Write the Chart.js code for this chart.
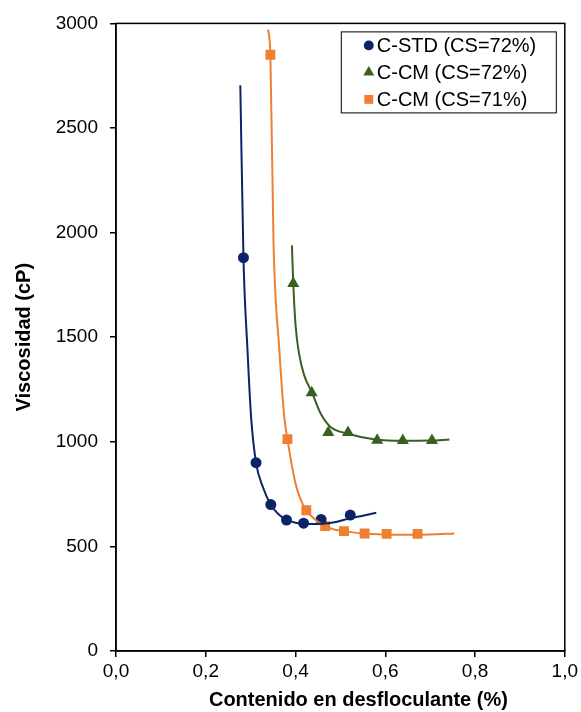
<!DOCTYPE html>
<html>
<head>
<meta charset="utf-8">
<script src="https://cdn.jsdelivr.net/npm/chart.js@4/dist/chart.umd.min.js"></script>
<style>
  html, body { margin: 0; padding: 0; background: #fff; }
  #wrap { width: 581px; height: 712px; }
</style>
</head>
<body>
<div id="wrap"><canvas id="viscChart" width="581" height="712"></canvas></div>
<script>
// Datos
const nombres = ['C-STD (CS=72%)', 'C-CM (CS=72%)', 'C-CM (CS=71%)'];
const tituloX = 'Contenido en desfloculante (%)';

const stdX = [0.284, 0.312, 0.345, 0.380, 0.418, 0.457, 0.522];
const stdY = [1880, 900, 700, 626, 611, 629, 650];
const cm72X = [0.395, 0.436, 0.473, 0.517, 0.582, 0.639, 0.704];
const cm72Y = [1757, 1234, 1045, 1045, 1008, 1006, 1006];
const cm71X = [0.344, 0.382, 0.424, 0.466, 0.508, 0.554, 0.603, 0.672];
const cm71Y = [2850, 1013, 673, 597, 573, 562, 560, 560];

// Líneas de tendencia
const stdFitX = [0.277, 0.284, 0.293, 0.301, 0.312, 0.327, 0.345, 0.362, 0.380, 0.40, 0.43, 0.46, 0.49, 0.52, 0.55, 0.58];
const stdFitY = [2704, 1880, 1438, 1119, 900, 785, 699, 654, 628, 613, 607, 608, 617, 634, 647, 661];
const cm72FitX = [0.392, 0.395, 0.400, 0.408, 0.419, 0.4375, 0.456, 0.478, 0.515, 0.578, 0.64, 0.70, 0.743];
const cm72FitY = [1939, 1757, 1560, 1420, 1320, 1231, 1135, 1071, 1040, 1011, 1005, 1006, 1011];
const cm71FitX = [0.339, 0.344, 0.351, 0.364, 0.375, 0.382, 0.40, 0.412, 0.424, 0.445, 0.466, 0.486, 0.508, 0.55, 0.60, 0.65, 0.70, 0.754];
const cm71FitY = [2970, 2847, 1951, 1438, 1119, 1013, 801, 721, 673, 626, 597, 581, 573, 562, 557, 556, 557, 562];

const xTicks = [0, 0.2, 0.4, 0.6, 0.8, 1.0];
const yTicks = [0, 500, 1000, 1500, 2000, 2500, 3000];

const colores = ['#0a2467', '#3b5e22', '#ee7f33'];
const marcas = ['circle', 'triangle', 'rect'];
const radios = [5.5, 7, 7];

const toXY = (xs, ys) => xs.map((x, i) => ({ x: x, y: ys[i] }));

const puntos = [[stdX, stdY], [cm72X, cm72Y], [cm71X, cm71Y]];
const curvas = [[stdFitX, stdFitY], [cm72FitX, cm72FitY], [cm71FitX, cm71FitY]];

const datasets = [];
curvas.forEach((c, i) => {
  datasets.push({
    label: 'fit' + i,
    data: toXY(c[0], c[1]),
    showLine: true,
    borderColor: colores[i],
    borderWidth: 2,
    pointRadius: 0,
    cubicInterpolationMode: 'monotone',
    fill: false,
    enLeyenda: false
  });
});
puntos.forEach((p, i) => {
  datasets.push({
    label: nombres[i],
    data: toXY(p[0], p[1]),
    showLine: false,
    backgroundColor: colores[i],
    borderColor: colores[i],
    borderWidth: 0,
    pointStyle: marcas[i],
    pointRadius: radios[i],
    pointHoverRadius: radios[i],
    enLeyenda: true
  });
});

// Marco del área de trazado, título X y leyenda dentro del gráfico
const marcoLeyenda = {
  id: 'marcoLeyenda',
  afterDraw(chart) {
    const ctx = chart.ctx;
    const a = chart.chartArea;
    ctx.save();
    ctx.strokeStyle = '#000';
    ctx.lineWidth = 1.5;
    ctx.strokeRect(a.left, a.top, a.right - a.left, a.bottom - a.top);

    // título del eje X (desplazado a la derecha como en el original)
    ctx.fillStyle = '#000';
    ctx.font = 'bold 20px "Liberation Sans", Arial, sans-serif';
    ctx.textAlign = 'center';
    ctx.textBaseline = 'middle';
    ctx.fillText(tituloX, (a.left + a.right) / 2 + 18, chart.height - 12);

    // leyenda
    const bx = a.right - 224, by = a.top + 8, bw = 215, bh = 81;
    ctx.fillStyle = '#fff';
    ctx.fillRect(bx, by, bw, bh);
    ctx.lineWidth = 1;
    ctx.strokeRect(bx + 0.5, by + 0.5, bw, bh);
    ctx.font = '20px "Liberation Sans", Arial, sans-serif';
    ctx.textBaseline = 'middle';
    ctx.textAlign = 'left';
    const items = chart.data.datasets.filter(d => d.enLeyenda);
    items.forEach((d, i) => {
      const y = by + 14 + i * 27;
      ctx.fillStyle = d.backgroundColor;
      Chart.helpers.drawPoint(ctx, { pointStyle: d.pointStyle, radius: d.pointRadius * 0.9, rotation: 0, borderWidth: 0 }, bx + 28, y);
      ctx.fillStyle = '#000';
      ctx.fillText(d.label, bx + 36, y + 1);
    });
    ctx.restore();
  }
};

const ctx = document.getElementById('viscChart').getContext('2d');
new Chart(ctx, {
  type: 'scatter',
  data: { datasets: datasets },
  options: {
    responsive: false,
    animation: false,
    layout: { padding: { top: 23, right: 14, left: 0, bottom: 0 } },
    plugins: {
      legend: { display: false },
      tooltip: { enabled: false }
    },
    scales: {
      x: {
        type: 'linear',
        min: 0, max: 1,
        afterFit: (s) => { s.height = 61; },
        afterBuildTicks: (s) => { s.ticks = xTicks.map(v => ({ value: v })); },
        ticks: {
          color: '#000',
          padding: 3,
          font: { family: '"Liberation Sans", Arial, sans-serif', size: 19 },
          callback: (v) => Number(v).toFixed(1).replace('.', ',')
        },
        grid: { drawOnChartArea: false, color: '#000', tickLength: 6, lineWidth: 1.5 },
        border: { color: '#000', width: 1.5 },
        title: { display: false }
      },
      y: {
        type: 'linear',
        min: 0, max: 3000,
        afterFit: (s) => { s.width = 116; },
        afterBuildTicks: (s) => { s.ticks = yTicks.map(v => ({ value: v })); },
        ticks: {
          color: '#000',
          padding: 12,
          font: { family: '"Liberation Sans", Arial, sans-serif', size: 19 },
          callback: (v) => String(v)
        },
        grid: { drawOnChartArea: false, color: '#000', tickLength: 6, lineWidth: 1.5 },
        border: { color: '#000', width: 1.5 },
        title: {
          display: true,
          text: 'Viscosidad (cP)',
          color: '#000',
          padding: { top: 12, bottom: 0 },
          font: { family: '"Liberation Sans", Arial, sans-serif', size: 20, weight: 'bold' }
        }
      }
    }
  },
  plugins: [marcoLeyenda]
});
</script>
</body>
</html>
